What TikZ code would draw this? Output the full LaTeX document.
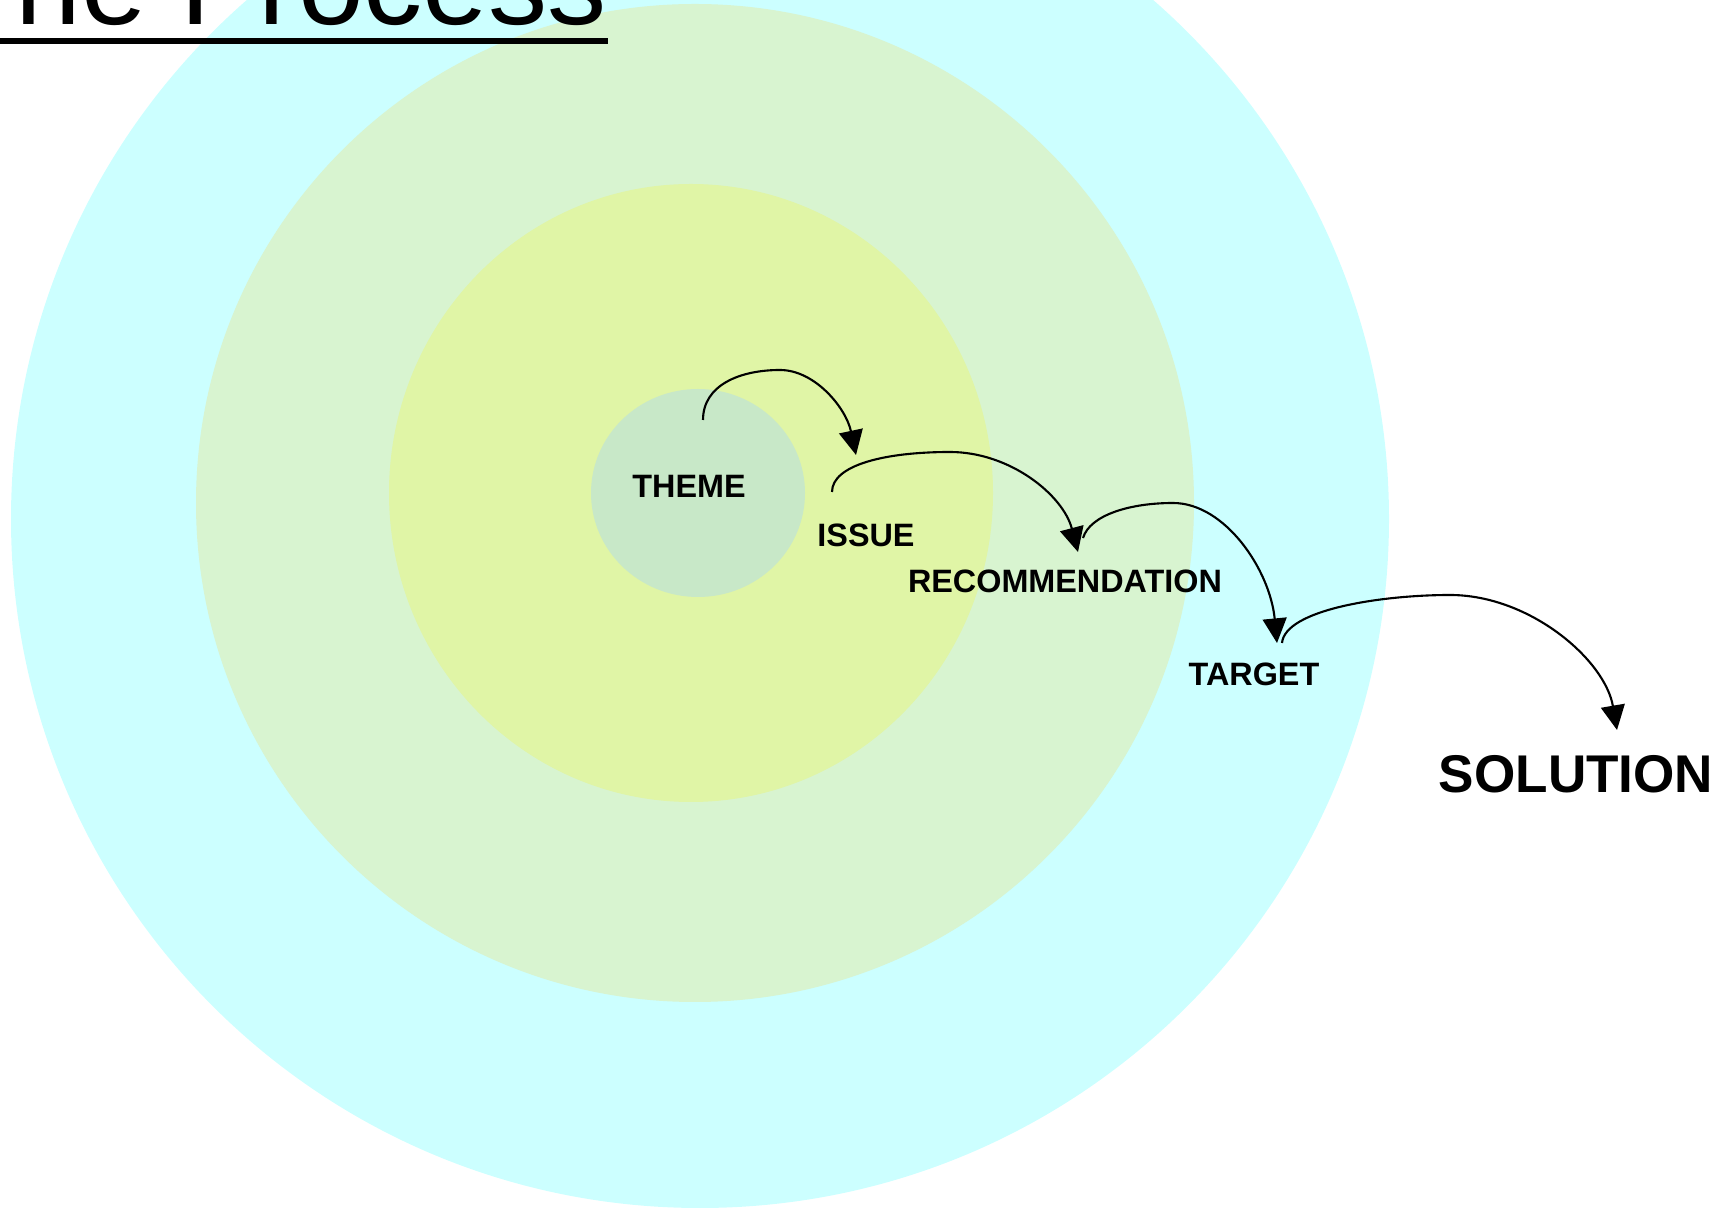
\documentclass[tikz,border=0pt]{standalone}
\usepackage{fontspec}
\setmainfont{Liberation Sans}
\usetikzlibrary{arrows.meta}
\definecolor{outerring}{HTML}{CCFFFF}
\definecolor{middlering}{HTML}{D8F4D0}
\definecolor{innerring}{HTML}{E0F5A6}
\definecolor{core}{HTML}{C8E8C8}

\begin{document}
\begin{tikzpicture}[x=0.01cm,y=0.01cm,
  step label/.style={font=\fontsize{9.2pt}{11pt}\selectfont\bfseries,inner sep=0pt},
  jump/.style={line width=0.6pt,-{Triangle[length=7pt,width=6.8pt]}}]
\useasboundingbox (0,0) rectangle (1733,-1210);
\clip (0,0) rectangle (1733,-1210);
% rings
\fill[outerring] (700,-519) circle (689);
\fill[middlering] (695,-503) circle (499);
\fill[innerring] (691,-493) ellipse (302 and 309);
\fill[core] (698,-493) ellipse (107 and 104);
% title
\node[anchor=base west,inner sep=0pt,font=\fontsize{33.6pt}{40pt}\selectfont] (title) at (-57,-25) {The Process};
\fill ([yshift=-0.11cm]title.south west) rectangle ([yshift=-0.17cm]title.south east);
% steps
\node[step label] (theme) at (689,-486) {THEME};
\node[step label] (issue) at (866,-535) {ISSUE};
\node[step label] (recommendation) at (1065,-581) {RECOMMENDATION};
\node[step label] (target) at (1254,-674) {TARGET};
\node[step label,font=\fontsize{15.1pt}{18pt}\selectfont\bfseries] (solution) at (1576,-774) {SOLUTION};
% arrow ends
\coordinate (themeout) at (703,-420);
\coordinate (issuein) at (856,-455);
\coordinate (issueout) at (832,-492);
\coordinate (recommendationin) at (1078,-552);
\coordinate (recommendationout) at (1083,-538);
\coordinate (targetin) at (1277,-643);
\coordinate (targetout) at (1282,-643);
\coordinate (solutionin) at (1617,-730);
\draw[jump] (themeout) .. controls (703,-385) and (740,-370) .. (780,-370)
  .. controls (815,-370) and (846,-408) .. (issuein);
\draw[jump] (issueout) .. controls (832,-465) and (885,-452) .. (950,-452)
  .. controls (1010,-452) and (1063,-495) .. (recommendationin);
\draw[jump] (recommendationout) .. controls (1090,-515) and (1130,-503) .. (1173,-503)
  .. controls (1225,-503) and (1270,-570) .. (targetin);
\draw[jump] (targetout) .. controls (1285,-610) and (1380,-595) .. (1450,-595)
  .. controls (1530,-595) and (1605,-660) .. (solutionin);
\end{tikzpicture}
\end{document}
